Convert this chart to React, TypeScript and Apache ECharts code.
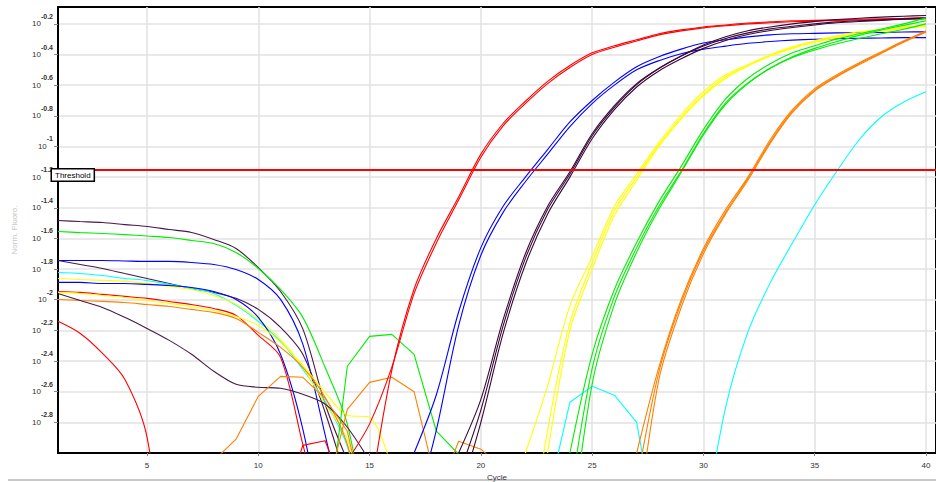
import React, { useEffect, useRef } from "react";
import * as echarts from "echarts";

// ---- axis ticks / threshold ----
const xTicks = [5, 10, 15, 20, 25, 30, 35, 40];
const yTicks = [-2.8, -2.6, -2.4, -2.2, -2, -1.8, -1.6, -1.4, -1.2, -1, -0.8, -0.6, -0.4, -0.2];
const thresholdLog = -1.15;

// ---- baseline (noise) curves, log10 values, cycle 1 onward ----
const purpleNoise1 = [-1.483, -1.49, -1.496, -1.51, -1.522, -1.542, -1.561, -1.607, -1.666, -1.79, -1.946, -2.19, -2.68, -3.05];
const greenNoise1 = [-1.555, -1.562, -1.568, -1.575, -1.584, -1.594, -1.613, -1.633, -1.692, -1.796, -1.933, -2.115, -2.441, -2.812, -3.6];
const blueNoise1 = [-1.744, -1.744, -1.744, -1.747, -1.75, -1.75, -1.757, -1.77, -1.803, -1.868, -1.998, -2.29, -2.88, -3.5];
const purpleNoise2 = [-1.744, -1.77, -1.796, -1.829, -1.861, -1.894, -1.926, -1.952, -1.991, -2.063, -2.18, -2.356, -2.734, -3.2];
const cyanNoise1 = [-1.822, -1.829, -1.842, -1.861, -1.874, -1.9, -1.926, -1.959, -2.037, -2.141, -2.272, -2.454, -2.663, -2.956, -3.6];
const yellowNoise1 = [-1.861, -1.868, -1.874, -1.88, -1.894, -1.913, -1.933, -1.972, -2.03, -2.128, -2.259, -2.441, -2.68, -2.91, -3.5];
const blueNoise2 = [-1.887, -1.887, -1.894, -1.894, -1.9, -1.907, -1.92, -1.946, -1.998, -2.115, -2.356, -2.845, -3.6];
const redNoise1 = [-1.946, -1.952, -1.965, -1.978, -1.991, -2.011, -2.031, -2.057, -2.102, -2.233, -2.376, -2.943, -3.5];
const yellowNoise2 = [-1.952, -1.959, -1.972, -1.985, -2.005, -2.024, -2.044, -2.07, -2.109, -2.167, -2.278, -2.428, -2.604, -2.754, -2.767, -3.1];
const orangeNoise1 = [-1.998, -2.005, -2.011, -2.018, -2.031, -2.044, -2.063, -2.083, -2.122, -2.213, -2.311, -2.441, -2.636, -2.943, -3.6];
const purpleNoise3 = [-1.959, -2.005, -2.05, -2.115, -2.187, -2.265, -2.356, -2.467, -2.552, -2.571, -2.578, -2.617, -2.68, -2.832, -3.05];
const redNoise2 = [-2.141, -2.22, -2.35, -2.519, -2.897, -4.0];

// ---- small bumps near the baseline ----
const orangeBump1 = [-3.05, -2.91, -2.63, -2.5, -2.506, -2.643, -2.858, -3.5]; // from cycle 8
const redBump = [-3.4, -2.95, -2.92, -3.3]; // from cycle 11
const greenBump = [-3.6, -2.434, -2.239, -2.226, -2.356, -2.858, -3.008, -3.2]; // from cycle 13
const orangeBump2 = [-3.3, -2.715, -2.539, -2.506, -2.6, -3.2]; // from cycle 13
const orangeBump3 = [-3.3, -2.923, -2.975, -3.1]; // from cycle 18
const cyanBump = [-3.3, -2.669, -2.565, -2.623, -2.8, -3.6]; // from cycle 23

// ---- amplification curves ----
const redAmpA = [-3.3, -2.46, -1.93, -1.6, -1.33, -1.05, -0.85, -0.705, -0.575, -0.472, -0.389, -0.343, -0.304, -0.265, -0.239, -0.22, -0.207, -0.194, -0.187, -0.18, -0.177, -0.174, -0.17, -0.167, -0.164, -0.16]; // from 15
const redAmpB = [-3.05, -2.81, -2.44, -1.96, -1.63, -1.35, -1.07, -0.865, -0.72, -0.59, -0.485, -0.4, -0.352, -0.312, -0.272, -0.246, -0.226, -0.212, -0.2, -0.193, -0.186, -0.182, -0.178, -0.175, -0.172, -0.169, -0.166]; // from 14
const blueAmpA = [-3.0, -2.62, -2.08, -1.66, -1.39, -1.2, -1.02, -0.84, -0.7, -0.58, -0.48, -0.415, -0.365, -0.325, -0.304, -0.285, -0.272, -0.265, -0.262, -0.259, -0.258, -0.256, -0.253, -0.252]; // from 17
const blueAmpB = [-3.4, -2.85, -2.17, -1.71, -1.43, -1.23, -1.05, -0.87, -0.72, -0.6, -0.5, -0.44, -0.395, -0.365, -0.345, -0.327, -0.315, -0.306, -0.3, -0.297, -0.294, -0.292, -0.29, -0.29]; // from 17
const purpleAmpA = [-3.0, -2.65, -2.13, -1.7, -1.39, -1.165, -0.917, -0.734, -0.59, -0.49, -0.41, -0.345, -0.295, -0.259, -0.233, -0.216, -0.2, -0.187, -0.18, -0.174, -0.167, -0.161]; // from 19
const purpleAmpB = [-3.3, -2.8, -2.22, -1.77, -1.44, -1.2, -0.95, -0.76, -0.612, -0.507, -0.428, -0.36, -0.308, -0.27, -0.243, -0.224, -0.207, -0.193, -0.184, -0.177, -0.17, -0.165]; // from 19
const purpleAmpC = [-3.15, -2.72, -2.17, -1.73, -1.41, -1.18, -0.93, -0.745, -0.597, -0.492, -0.41, -0.338, -0.284, -0.245, -0.22, -0.2, -0.185, -0.172, -0.163, -0.156, -0.15, -0.145]; // from 19
const yellowAmpA = [-3.0, -2.56, -2.04, -1.72, -1.39, -1.18, -0.975, -0.793, -0.643, -0.532, -0.467, -0.402, -0.35, -0.31, -0.278, -0.252, -0.239, -0.22, -0.207]; // from 22
const yellowAmpB = [-3.8, -2.85, -2.15, -1.76, -1.42, -1.2, -0.99, -0.81, -0.66, -0.545, -0.47, -0.405, -0.355, -0.315, -0.283, -0.26, -0.242, -0.225, -0.212]; // from 22
const yellowAmpC = [-3.0, -2.2, -1.8, -1.45, -1.22, -1.0, -0.82, -0.67, -0.555, -0.475, -0.41, -0.36, -0.32, -0.29, -0.265, -0.247, -0.23, -0.217]; // from 23
const greenAmpA = [-3.0, -2.356, -1.933, -1.627, -1.36, -1.13, -0.89, -0.69, -0.555, -0.46, -0.389, -0.343, -0.298, -0.265, -0.233, -0.2, -0.161]; // from 24
const greenAmpB = [-3.3, -2.45, -1.98, -1.66, -1.39, -1.16, -0.915, -0.715, -0.585, -0.49, -0.42, -0.37, -0.33, -0.295, -0.265, -0.235, -0.2]; // from 24
const greenAmpC = [-3.6, -2.55, -2.03, -1.69, -1.41, -1.17, -0.925, -0.725, -0.59, -0.49, -0.415, -0.36, -0.315, -0.275, -0.24, -0.21, -0.18]; // from 24
const orangeAmpA = [-3.0, -2.44, -2.0, -1.666, -1.412, -1.2, -0.956, -0.76, -0.623, -0.532, -0.454, -0.382, -0.311, -0.246]; // from 27
const orangeAmpB = [-3.5, -2.52, -2.05, -1.7, -1.44, -1.22, -0.98, -0.778, -0.638, -0.545, -0.466, -0.392, -0.32, -0.255]; // from 27
const orangeAmpC = [-3.2, -2.47, -2.02, -1.68, -1.43, -1.21, -0.97, -0.77, -0.632, -0.54, -0.46, -0.388, -0.315, -0.25]; // from 27
const cyanAmp = [-3.5, -2.7, -2.21, -1.89, -1.63, -1.38, -1.16, -0.956, -0.806, -0.71, -0.643]; // from 30

const RED = "#FF0000";
const BLUE = "#0000FF";
const PURPLE = "#4A1848";
const DPURPLE = "#3A0838";
const GREEN = "#00EE00";
const YELLOW = "#FFFF00";
const ORANGE = "#FF8000";
const CYAN = "#00FFFF";

// [values, first cycle, colour, smoothed]
const curves: [number[], number, string, boolean][] = [
  [purpleNoise1, 1, PURPLE, true],
  [greenNoise1, 1, GREEN, true],
  [blueNoise1, 1, BLUE, true],
  [purpleNoise2, 1, PURPLE, true],
  [cyanNoise1, 1, CYAN, true],
  [yellowNoise1, 1, YELLOW, true],
  [blueNoise2, 1, BLUE, true],
  [redNoise1, 1, RED, true],
  [yellowNoise2, 1, YELLOW, true],
  [orangeNoise1, 1, ORANGE, true],
  [purpleNoise3, 1, PURPLE, true],
  [redNoise2, 1, RED, true],
  [orangeBump1, 8, ORANGE, false],
  [redBump, 11, RED, false],
  [greenBump, 13, GREEN, false],
  [orangeBump2, 13, ORANGE, false],
  [orangeBump3, 18, ORANGE, false],
  [cyanBump, 23, CYAN, false],
  [redAmpA, 15, RED, true],
  [redAmpB, 14, RED, true],
  [blueAmpA, 17, BLUE, true],
  [blueAmpB, 17, BLUE, true],
  [purpleAmpA, 19, DPURPLE, true],
  [purpleAmpB, 19, DPURPLE, true],
  [purpleAmpC, 19, DPURPLE, true],
  [yellowAmpA, 22, YELLOW, true],
  [yellowAmpB, 22, YELLOW, true],
  [yellowAmpC, 23, YELLOW, true],
  [greenAmpA, 24, GREEN, true],
  [greenAmpB, 24, GREEN, true],
  [greenAmpC, 24, GREEN, true],
  [orangeAmpA, 27, ORANGE, true],
  [orangeAmpB, 27, ORANGE, true],
  [orangeAmpC, 27, ORANGE, true],
  [cyanAmp, 30, CYAN, true],
];

const FONT = "Liberation Sans, Arial, sans-serif";

export default function App() {
  const ref = useRef<HTMLDivElement>(null);

  useEffect(() => {
    if (!ref.current) return;
    const chart = echarts.init(ref.current, null, { renderer: "svg" });

    const series: any[] = curves.map(([vals, start, color, smooth]) => ({
      type: "line",
      data: vals.map((v, i) => [start + i, v]),
      showSymbol: false,
      symbol: "none",
      silent: true,
      clip: true,
      smooth: smooth ? 0.3 : false,
      lineStyle: { color, width: 1.1 },
      itemStyle: { color },
      z: 2,
    }));

    series.push({
      type: "line",
      data: [],
      silent: true,
      z: 5,
      markLine: {
        silent: true,
        symbol: ["none", "none"],
        animation: false,
        lineStyle: { color: "#FF0000", width: 2, type: "solid" },
        label: {
          show: true,
          formatter: "Threshold",
          position: "insideStartBottom",
          distance: [-6, 0],
          fontSize: 8,
          fontFamily: FONT,
          color: "#000",
          backgroundColor: "#fff",
          borderColor: "#000",
          borderWidth: 1.5,
          padding: [2, 3, 1, 3],
        },
        data: [{ yAxis: thresholdLog }],
      },
    });

    chart.setOption({
      animation: false,
      backgroundColor: "#fff",
      grid: {
        left: 58,
        right: 0,
        top: 7,
        bottom: 29,
        show: true,
        borderColor: "#000",
        borderWidth: 2,
        outerBoundsMode: "none",
      },
      xAxis: {
        type: "value",
        min: 1,
        max: 40.45,
        name: "Cycle",
        nameLocation: "middle",
        nameGap: 17,
        nameTextStyle: { fontSize: 8, color: "#333", fontFamily: FONT },
        axisLine: { show: true, onZero: false, lineStyle: { color: "#000", width: 2 } },
        axisTick: { show: true, length: 3, customValues: xTicks, lineStyle: { color: "#888" } },
        axisLabel: { customValues: xTicks, fontSize: 8, color: "#333", margin: 8, fontFamily: FONT },
        splitLine: { show: true, lineStyle: { color: "#e2e2e2", width: 1.5 } },
      },
      yAxis: {
        type: "value",
        min: -3,
        max: -0.09,
        name: "Norm. Fluoro.",
        nameLocation: "middle",
        nameGap: 40,
        nameTextStyle: { fontSize: 8, color: "#c4c4c4", fontFamily: FONT },
        axisLine: { show: true, onZero: false, lineStyle: { color: "#000", width: 2 } },
        axisTick: { show: true, length: 4, customValues: yTicks, lineStyle: { color: "#888" } },
        axisLabel: {
          customValues: yTicks,
          margin: 5,
          formatter: (v: number) => `{b|10}{s|${Number(v.toFixed(1))}}`,
          rich: {
            b: { fontSize: 8, color: "#333", fontFamily: FONT, lineHeight: 22, verticalAlign: "middle" },
            s: { fontSize: 7, color: "#333", fontWeight: "bold", fontFamily: FONT, lineHeight: 22, verticalAlign: "top" },
          },
        },
        splitLine: { show: true, lineStyle: { color: "#e2e2e2", width: 1.5 } },
      },
      graphic: [
        {
          type: "rect",
          shape: { x: 8, y: 479, width: 928, height: 2 },
          style: { fill: "#c8c8c8" },
          silent: true,
        },
      ],
      series,
    });

    return () => chart.dispose();
  }, []);

  return (
    <div
      ref={ref}
      style={{ position: "absolute", left: 0, top: 0, width: 936, height: 482 }}
    />
  );
}
